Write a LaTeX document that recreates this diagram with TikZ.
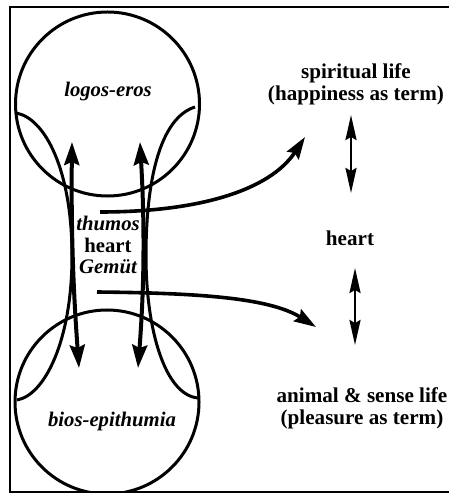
\documentclass[tikz,border=0pt]{standalone}
\usepackage{fontspec}
\setmainfont{Liberation Serif}
\usetikzlibrary{arrows.meta}

\begin{document}
\begin{tikzpicture}[
    x=0.5bp, y=-0.5bp,
    font=\fontsize{10.4}{11}\selectfont\bfseries,
    soul/.style={draw, circle, line width=1.5bp, inner sep=0pt, minimum size=92bp},
    tag/.style={align=center, inner sep=1pt},
    side/.style={tag, font=\fontsize{10.6}{11.2}\selectfont\bfseries},
    neck/.style={line width=1.5bp},
    flow/.style={line width=1.8bp, -{Stealth[length=11bp, width=7bp, inset=1.5bp]}},
    twoway/.style={line width=2bp, {Stealth[length=11.5bp, width=7.5bp, inset=1.5bp]}-{Stealth[length=11.5bp, width=7.5bp, inset=1.5bp]}},
    rel/.style={line width=1.2bp, {Stealth[length=12.5bp, width=5.5bp, inset=1.5bp]}-{Stealth[length=12.5bp, width=5.5bp, inset=1.5bp]}},
  ]
    \useasboundingbox (0,0) rectangle (449,493);

    % frame (open on the right)
    \draw[line width=1.2bp] (449,7) -- (10,7) -- (10,492) -- (449,492);

    % the two souls
    \node[soul] (logos) at (107.5,104) {};
    \node[soul] (bios) at (107,402) {};
    \node[tag] (logostxt) at (108,92) {\itshape logos-eros};
    \node[tag] (biostxt) at (112,422) {\itshape bios-epithumia};

    % the neck between them
    \draw[neck] (16,113) .. controls (45,118) and (72,170) .. (72,256)
                        .. controls (72,340) and (45,395) .. (17,400);
    \draw[neck] (195,107) .. controls (160,118) and (146,180) .. (146,256)
                         .. controls (146,330) and (165,395) .. (198,398);

    \node[tag] (mid) at (108,245) {\itshape thumos\\heart\\\itshape Gem\"ut};

    % up and down through the neck
    \coordinate (lt) at (72,142);
    \coordinate (lb) at (79,368);
    \coordinate (rt) at (140,142);
    \coordinate (rb) at (138,368);
    \draw[twoway] (lt) .. controls (71,240) and (74,300) .. (lb);
    \draw[twoway] (rt) .. controls (145,230) and (144,290) .. (rb);

    % right column
    \node[side] (spirit) at (356,84) {spiritual life\\(happiness as term)};
    \node[side] (heart) at (350,238) {heart};
    \node[side] (animal) at (362,408) {animal \& sense life\\(pleasure as term)};

    \coordinate (s1) at (351,115);
    \coordinate (s2) at (351,193);
    \coordinate (a1) at (355,268);
    \coordinate (a2) at (355,345);
    \draw[rel] (s1) -- (s2);
    \draw[rel] (a1) -- (a2);

    % out of the heart
    \coordinate (upfrom) at (100,212);
    \coordinate (upto) at (305,137);
    \coordinate (downfrom) at (97,292);
    \coordinate (downto) at (316,327);
    \draw[flow] (upfrom) .. controls (200,212) and (270,190) .. (upto);
    \draw[flow] (downfrom) .. controls (200,293) and (270,298) .. (downto);
  \end{tikzpicture}
\end{document}
